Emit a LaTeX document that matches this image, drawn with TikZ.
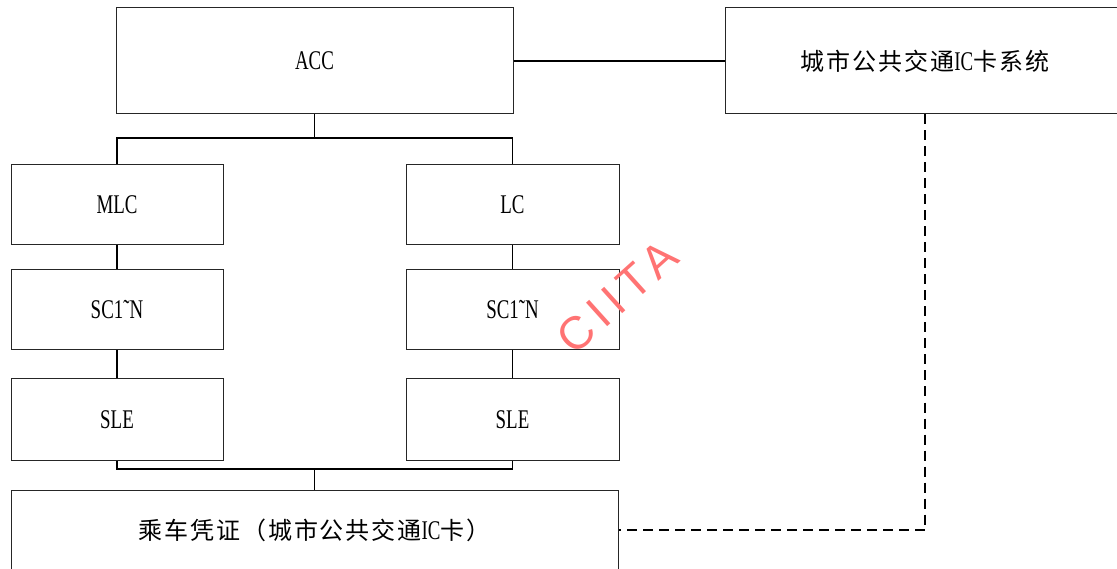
\documentclass[tikz,border=0pt]{standalone}
\usepackage{fontspec}
\setmainfont{Liberation Serif}[FakeStretch=0.7]
\newfontfamily\zh{Noto Sans CJK SC}[LetterSpace=8]
\newfontfamily\wm{Liberation Sans}[LetterSpace=16]
\begin{document}
\begin{tikzpicture}[x=1pt,y=-1pt,
  box/.style={draw=black!85,line width=1pt,minimum width=#1,inner sep=0pt,font=\fontsize{27}{27}\selectfont},
  box/.default=212pt,
  bus/.style={draw=black,line width=1.4pt},
  dashline/.style={draw=black,line width=1.4pt,dash pattern=on 10pt off 6pt}]
\clip (0,0) rectangle (1117,569);
\fill[white] (0,0) rectangle (1117,569);
% boxes
\node[box=397pt,minimum height=106pt] (acc) at (314.5,61) {ACC};
\node[box=400pt,minimum height=106pt] (city) at (925,61) {\fontsize{24}{24}\zh 城市公共交通\rmfamily\fontsize{27}{27}\selectfont IC\fontsize{24}{24}\zh 卡系统};
\node[box,minimum height=80pt] (mlc) at (117,205) {MLC};
\node[box=213pt,minimum height=80pt] (lc) at (512.5,205) {LC};
\node[box,minimum height=80pt] (sc1) at (117,310) {SC1˜N};
\node[box=213pt,minimum height=80pt] (sc2) at (512.5,310) {SC1˜N};
\node[box,minimum height=81pt] (sle1) at (117,419.5) {SLE};
\node[box=213pt,minimum height=81pt] (sle2) at (512.5,419.5) {SLE};
\node[box=607pt,minimum height=80pt] (card) at (314.5,530) {\fontsize{24}{24}\zh 乘车凭证（城市公共交通\rmfamily\fontsize{27}{27}\selectfont IC\fontsize{24}{24}\zh 卡）};
% connectors
\coordinate (bt) at (314.5,138);
\coordinate (bb) at (314.5,469);
\draw[bus] (acc.south) -- (bt);
\draw[bus] (mlc.north) |- (bt);
\draw[bus] (lc.north) |- (bt);
\draw[bus] (mlc.south) -- (sc1.north);
\draw[bus] (lc.south) -- (sc2.north);
\draw[bus] (sc1.south) -- (sle1.north);
\draw[bus] (sc2.south) -- (sle2.north);
\draw[bus] (sle1.south) |- (bb);
\draw[bus] (sle2.south) |- (bb);
\draw[bus] (bb) -- (card.north);
\draw[bus] (acc.east) -- (city.west);
\draw[dashline] (city.south) |- (card.east);
% watermark
\node[rotate=42,inner sep=0pt,text={rgb,255:red,255;green,115;blue,115},font=\fontsize{46}{46}\wm] (wmk) at (617,297) {CIITA};
\end{tikzpicture}
\end{document}
